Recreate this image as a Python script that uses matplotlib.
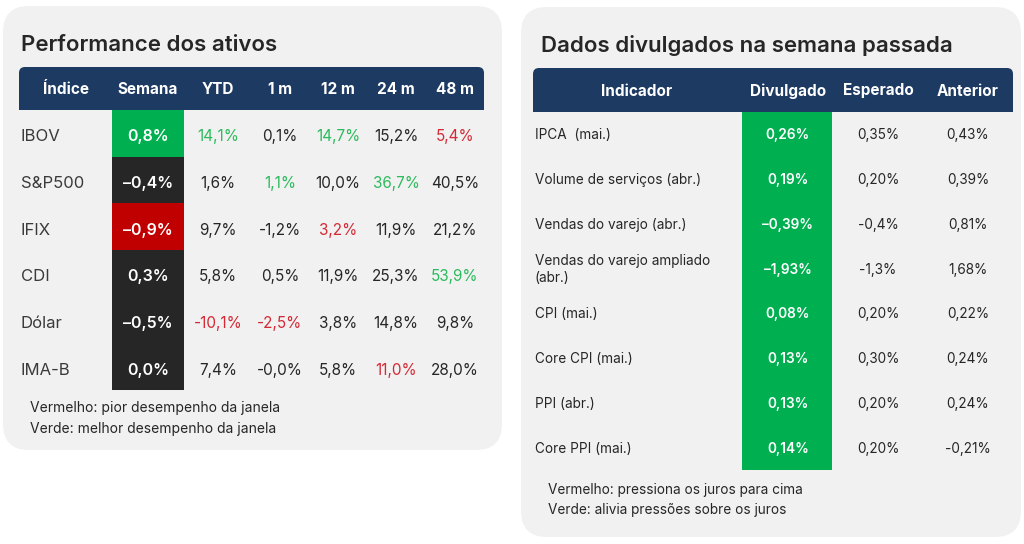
import matplotlib
matplotlib.use('Agg')
import matplotlib.pyplot as plt
from matplotlib.patches import FancyBboxPatch, Rectangle

plt.rcParams['font.family'] = ['Inter', 'DejaVu Sans']

# ---- dados: performance dos ativos ----
indices = ['IBOV', 'S&P500', 'IFIX', 'CDI', 'Dólar', 'IMA-B']
semana = [0.8, -0.4, -0.9, 0.3, -0.5, 0.0]
ytd = [14.1, 1.6, 9.7, 5.8, -10.1, 7.4]
m1 = [0.1, 1.1, -1.2, 0.5, -2.5, -0.0]
m12 = [14.7, 10.0, 3.2, 11.9, 3.8, 5.8]
m24 = [15.2, 36.7, 11.9, 25.3, 14.8, 11.0]
m48 = [5.4, 40.5, 21.2, 53.9, 9.8, 28.0]
cols_esq = ['Índice', 'Semana', 'YTD', '1 m', '12 m', '24 m', '48 m']

# ---- dados: divulgados na semana ----
indicadores = ['IPCA  (mai.)', 'Volume de serviços (abr.)', 'Vendas do varejo (abr.)',
               'Vendas do varejo ampliado\n(abr.)', 'CPI (mai.)', 'Core CPI (mai.)',
               'PPI (abr.)', 'Core PPI (mai.)']
divulgado = ['0,26%', '0,19%', '–0,39%', '–1,93%', '0,08%', '0,13%', '0,13%', '0,14%']
esperado = ['0,35%', '0,20%', '-0,4%', '-1,3%', '0,20%', '0,30%', '0,20%', '0,20%']
anterior = ['0,43%', '0,39%', '0,81%', '1,68%', '0,22%', '0,24%', '0,24%', '-0,21%']
cols_dir = ['Indicador', 'Divulgado', 'Esperado', 'Anterior']

NAVY = '#1d3a63'
GREEN = '#00b050'
RED = '#c00000'
DARK = '#262626'
TXT_GREEN = '#2cbb5d'
TXT_RED = '#d42a36'
TXT = '#262626'
PANEL = '#f1f1f1'


def fmt(v, dash='-'):
    s = f'{v:.1f}'.replace('.', ',') + '%'
    return s.replace('-', dash)


fig = plt.figure(figsize=(10.24, 5.44), dpi=100)
ax = fig.add_axes([0, 0, 1, 1])
ax.set_xlim(0, 1024)
ax.set_ylim(544, 0)
ax.axis('off')

# paineis
for x0, y0, x1, y1 in [(3, 6, 502, 450), (521, 7, 1021, 537)]:
    ax.add_patch(FancyBboxPatch((x0, y0), x1 - x0, y1 - y0,
                                boxstyle='round,pad=0,rounding_size=26',
                                fc=PANEL, ec='none'))

# ---------- tabela esquerda ----------
ax.text(21, 45, 'Performance dos ativos', fontsize=16, fontweight='semibold',
        color=TXT, va='center', ha='left')

hx0, hx1, hy0, hy1 = 19, 484, 67, 110
ax.add_patch(FancyBboxPatch((hx0, hy0), hx1 - hx0, hy1 - hy0,
                            boxstyle='round,pad=0,rounding_size=6', fc=NAVY, ec='none'))
ax.add_patch(Rectangle((hx0, hy0 + 10), hx1 - hx0, hy1 - hy0 - 10, fc=NAVY, ec='none'))

col_x = [66, 148, 218, 280, 338, 396, 455]
for c, x in zip(cols_esq, col_x):
    ax.text(x, 90, c, fontsize=11, fontweight='bold', color='white',
            ha='center', va='center')

row_h = (390 - hy1) / len(indices)
s_max, s_min = max(semana), min(semana)
outras = [ytd, m1, m12, m24, m48]
for i, nome in enumerate(indices):
    y0 = hy1 + i * row_h
    yc = y0 + row_h / 2 + 3.5
    ax.text(21, yc, nome, fontsize=12, color='#3a3a3a', ha='left', va='center')
    v = semana[i]
    fc = GREEN if v == s_max else (RED if v == s_min else DARK)
    ax.add_patch(Rectangle((112, y0), 72, row_h, fc=fc, ec='none'))
    ax.text(148, yc, fmt(v, '–'), fontsize=11.5, fontweight='semibold', color='white',
            ha='center', va='center')
    for serie, x in zip(outras, col_x[2:]):
        val = serie[i]
        cor = TXT_GREEN if val == max(serie) else (TXT_RED if val == min(serie) else TXT)
        ax.text(x, yc, fmt(val), fontsize=11, color=cor, ha='center', va='center')

ax.text(30, 408, 'Vermelho: pior desempenho da janela', fontsize=10, color=TXT,
        ha='left', va='center')
ax.text(30, 429, 'Verde: melhor desempenho da janela', fontsize=10, color=TXT,
        ha='left', va='center')

# ---------- tabela direita ----------
ax.text(541, 45, 'Dados divulgados na semana passada', fontsize=16, fontweight='semibold',
        color=TXT, va='center', ha='left')

rx0, rx1, ry0, ry1 = 533, 1013, 68, 112
ax.add_patch(FancyBboxPatch((rx0, ry0), rx1 - rx0, ry1 - ry0,
                            boxstyle='round,pad=0,rounding_size=6', fc=NAVY, ec='none'))
ax.add_patch(Rectangle((rx0, ry0 + 10), rx1 - rx0, ry1 - ry0 - 10, fc=NAVY, ec='none'))

rcol_x = [637, 788, 878, 968]
for c, x in zip(cols_dir, rcol_x):
    ax.text(x, 91, c, fontsize=11, fontweight='bold', color='white',
            ha='center', va='center')

rrow_h = (470 - ry1) / len(indicadores)
ax.add_patch(Rectangle((742, ry1), 90, 470 - ry1, fc=GREEN, ec='none'))
for i, nome in enumerate(indicadores):
    yc = ry1 + i * rrow_h + rrow_h / 2 + 1
    ax.text(535, yc, nome, fontsize=9.8, color=TXT, ha='left', va='center',
            linespacing=1.25)
    ax.text(788, yc, divulgado[i], fontsize=9.8, fontweight='semibold', color='white',
            ha='center', va='center')
    ax.text(878, yc, esperado[i], fontsize=9.8, color=TXT, ha='center', va='center')
    ax.text(968, yc, anterior[i], fontsize=9.8, color=TXT, ha='center', va='center')

ax.text(548, 490, 'Vermelho: pressiona os juros para cima', fontsize=9.8, color=TXT,
        ha='left', va='center')
ax.text(548, 510, 'Verde: alivia pressões sobre os juros', fontsize=9.8, color=TXT,
        ha='left', va='center')

fig.savefig('out.png', dpi=100, facecolor='white')
